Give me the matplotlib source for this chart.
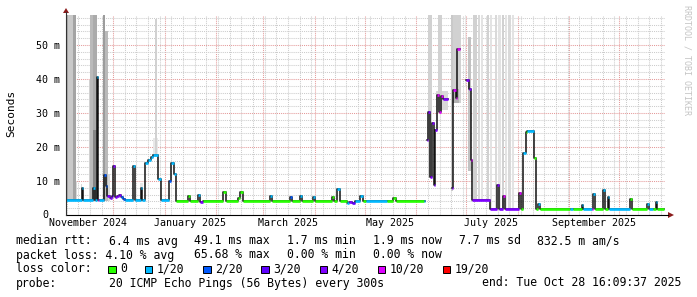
import re

import matplotlib
matplotlib.use("Agg")
import matplotlib.pyplot as plt
import matplotlib.dates as mdates
from matplotlib.patches import Polygon, Rectangle
import numpy as np
import pandas as pd

plt.rcParams["font.family"] = ["DejaVu Sans Mono", "DejaVu Sans"]

nan = np.nan

# ---- data -------------------------------------------------------------------
t_start = pd.Timestamp("2024-11-02 16:09:37")
t_end = pd.Timestamp("2025-10-28 16:09:37")

# median rtt in ms, as step changes; loss = pings lost out of 20
median_time = [
    "2024-11-02 16:00", "2024-11-12 05:00", "2024-11-13 02:00", "2024-11-19 02:00",
    "2024-11-20 00:00", "2024-11-21 00:00", "2024-11-21 12:00", "2024-11-22 00:00",
    "2024-11-22 12:00", "2024-11-25 10:00", "2024-11-26 14:00", "2024-11-27 10:00",
    "2024-11-29 00:00", "2024-11-30 05:00", "2024-12-01 03:00", "2024-12-02 00:00",
    "2024-12-03 05:00", "2024-12-04 10:00", "2024-12-05 14:00", "2024-12-06 19:00",
    "2024-12-08 00:00", "2024-12-13 00:00", "2024-12-14 05:00", "2024-12-17 12:00",
    "2024-12-18 10:00", "2024-12-20 05:00", "2024-12-21 19:00", "2024-12-23 14:00",
    "2024-12-24 19:00", "2024-12-28 02:00", "2024-12-29 14:00", "2025-01-03 07:00",
    "2025-01-04 12:00", "2025-01-06 12:00", "2025-01-07 17:00", "2025-01-14 17:00",
    "2025-01-16 02:00", "2025-01-20 22:00", "2025-01-22 02:00", "2025-01-23 22:00",
    "2025-02-05 02:00", "2025-02-06 12:00", "2025-02-14 02:00", "2025-02-15 10:00",
    "2025-02-16 17:00", "2025-03-05 02:00", "2025-03-06 12:00", "2025-03-17 02:00",
    "2025-03-18 17:00", "2025-03-23 02:00", "2025-03-24 05:00", "2025-03-31 02:00",
    "2025-04-01 02:00", "2025-04-11 10:00", "2025-04-12 14:00", "2025-04-14 17:00",
    "2025-04-16 05:00", "2025-04-20 05:00", "2025-04-21 14:00", "2025-04-23 10:00",
    "2025-04-25 05:00", "2025-04-28 05:00", "2025-04-29 19:00", "2025-05-02 02:00",
    "2025-05-14 05:00", "2025-05-18 07:00", "2025-05-19 19:00", "2025-06-05 10:00",
    "2025-06-06 12:00", "2025-06-07 05:00", "2025-06-08 05:00", "2025-06-09 14:00",
    "2025-06-10 14:00", "2025-06-11 19:00", "2025-06-12 14:00", "2025-06-13 19:00",
    "2025-06-14 19:00", "2025-06-16 00:00", "2025-06-17 00:00", "2025-06-20 05:00",
    "2025-06-22 05:00", "2025-06-23 05:00", "2025-06-24 19:00", "2025-06-25 17:00",
    "2025-06-27 14:00", "2025-07-01 05:00", "2025-07-02 14:00", "2025-07-03 17:00",
    "2025-07-04 14:00", "2025-07-15 12:00", "2025-07-19 12:00", "2025-07-20 12:00",
    "2025-07-23 05:00", "2025-07-24 07:00", "2025-08-01 19:00", "2025-08-02 22:00",
    "2025-08-03 22:00", "2025-08-05 22:00", "2025-08-06 14:00", "2025-08-10 17:00",
    "2025-08-11 17:00", "2025-08-13 07:00", "2025-08-14 07:00", "2025-09-01 10:00",
    "2025-09-03 10:00", "2025-09-08 07:00", "2025-09-09 07:00", "2025-09-14 07:00",
    "2025-09-15 07:00", "2025-09-16 12:00", "2025-09-21 07:00", "2025-09-22 12:00",
    "2025-09-23 22:00", "2025-09-24 17:00", "2025-10-07 07:00", "2025-10-08 12:00",
    "2025-10-17 17:00", "2025-10-18 22:00", "2025-10-21 02:00", "2025-10-22 19:00",
    "2025-10-23 17:00", "2025-10-28 00:00",
]
median_ms = [
    4.3, 7.8, 4.3, 8.0, 4.3, 31.5, 40.7, 4.3, 4.3, 11.8, 8.5, 5.5,
    5.0, 5.5, 14.4, 5.3, 5.7, 5.9, 5.2, 4.8, 4.3, 14.5, 4.3, 7.8,
    4.3, 15.4, 16.2, 17.0, 17.6, 10.7, 4.3, 10.0, 15.3, 12.1, 4.1, 5.6,
    4.1, 5.8, 3.9, 4.1, 6.7, 4.1, 4.9, 6.7, 4.1, 5.6, 4.0, 5.4,
    4.1, 5.6, 4.1, 5.4, 4.1, 5.4, 4.1, 7.6, 4.1, 3.4, 3.8, 3.5,
    4.1, 5.6, 4.1, 4.1, 4.1, 4.9, 4.1, 4.1, nan, 22.0, 30.4, 11.3,
    27.0, 8.7, 25.0, 35.3, 30.4, 35.0, 34.0, nan, 8.0, 36.8, 34.5, 48.8,
    nan, 39.7, 37.0, 16.2, 4.3, 1.8, 8.8, 1.8, 5.6, 1.8, 6.6, 1.8,
    18.1, 24.5, 24.7, 16.9, 1.8, 3.2, 1.8, 1.8, 1.8, 2.9, 1.8, 1.8,
    6.3, 1.8, 7.5, 1.8, 5.4, 1.8, 4.8, 1.8, 3.2, 1.8, 1.8, 3.7,
    1.8, 1.8,
]
median_loss = [
    1, 1, 1, 1, 1, 2, 1, 10, 1, 2, 2, 4,
    4, 3, 4, 4, 4, 4, 2, 2, 1, 1, 1, 1,
    1, 1, 1, 1, 1, 1, 1, 2, 1, 1, 0, 0,
    0, 1, 4, 0, 0, 0, 0, 0, 0, 1, 0, 2,
    0, 1, 0, 1, 0, 0, 0, 1, 0, 1, 4, 3,
    1, 1, 0, 1, 0, 0, 0, 1, 0, 4, 4, 4,
    4, 4, 4, 10, 10, 10, 4, 0, 4, 10, 10, 10,
    0, 4, 4, 10, 4, 4, 4, 4, 10, 4, 10, 0,
    1, 0, 1, 0, 0, 1, 0, 1, 0, 1, 1, 10,
    1, 0, 1, 0, 1, 1, 0, 0, 1, 1, 0, 1,
    0, 0,
]

# smoke (spread of the 20 pings): time span, low/high ms, density 0..1
smoke_from = [
    "2024-11-02 16:00", "2024-11-03 19:00", "2024-11-06 19:00", "2024-11-08 14:00",
    "2024-11-11 14:00", "2024-11-16 10:00", "2024-11-17 07:00", "2024-11-18 19:00",
    "2024-11-18 19:00", "2024-11-24 19:00", "2024-11-26 05:00", "2024-11-27 19:00",
    "2024-12-17 00:00", "2024-12-24 19:00", "2024-12-26 07:00", "2025-06-08 05:00",
    "2025-06-13 00:00", "2025-06-14 05:00", "2025-06-21 19:00", "2025-06-23 05:00",
    "2025-06-23 05:00", "2025-06-30 05:00", "2025-07-02 05:00", "2025-07-05 05:00",
    "2025-07-08 05:00", "2025-07-09 17:00", "2025-07-13 07:00", "2025-07-15 05:00",
    "2025-07-18 05:00", "2025-07-20 05:00", "2025-07-22 07:00", "2025-07-24 07:00",
    "2025-07-26 05:00", "2025-07-28 07:00",
]
smoke_to = [
    "2024-11-03 19:00", "2024-11-06 19:00", "2024-11-08 14:00", "2024-11-09 12:00",
    "2024-11-12 12:00", "2024-11-17 07:00", "2024-11-18 19:00", "2024-11-21 05:00",
    "2024-11-21 05:00", "2024-11-26 05:00", "2024-11-27 19:00", "2024-11-29 00:00",
    "2024-12-18 19:00", "2024-12-28 02:00", "2024-12-27 12:00", "2025-06-10 05:00",
    "2025-06-20 05:00", "2025-06-16 19:00", "2025-06-23 05:00", "2025-06-27 19:00",
    "2025-06-27 00:00", "2025-07-01 05:00", "2025-07-03 17:00", "2025-07-07 14:00",
    "2025-07-09 05:00", "2025-07-10 22:00", "2025-07-14 19:00", "2025-07-16 07:00",
    "2025-07-19 07:00", "2025-07-21 17:00", "2025-07-23 17:00", "2025-07-25 14:00",
    "2025-07-27 17:00", "2025-07-29 17:00",
]
smoke_low = [4, 4, 4, 4, 4, 4, 4, 4, 4, 4, 4, 4, 4, 17, 17, 11, 31,
             34, 7, 33, 33, 38, 13, 4, 4, 4, 4, 2, 2, 2, 2, 2, 2, 2]
smoke_high = [60, 60, 60, 10, 9, 39.7, 60, 60, 25, 60, 54, 12, 9.5, 22.6, 57.6, 60, 36.5,
              60, 60, 60, 37, 60, 52.5, 60, 60, 60, 60, 60, 60, 60, 60, 60, 60, 60]
smoke_density = [0.55, 0.35, 0.6, 0.25, 0.25, 0.3, 0.45, 0.55, 0.8, 0.65, 0.45, 0.25,
                 0.15, 0.15, 0.3, 0.3, 0.25, 0.3, 0.35, 0.3, 0.5, 0.15, 0.4,
                 0.3, 0.25, 0.18, 0.3, 0.18, 0.25, 0.18, 0.3, 0.18, 0.25, 0.18]

loss_levels = [0, 1, 2, 3, 4, 10, 19]
loss_colors = ["#26ff00", "#00b8ff", "#0059ff", "#5e00ff", "#7e00ff", "#dd00ff", "#ff0000"]
loss_labels = ["0", "1/20", "2/20", "3/20", "4/20", "10/20", "19/20"]

month_labels = ["November 2024", "January 2025", "March 2025", "May 2025",
                "July 2025", "September 2025"]
month_label_at = ["2024-11-16", "2025-01-16", "2025-03-16", "2025-05-16",
                  "2025-07-16", "2025-09-16"]

legend_lines = [
    "median rtt:  6.4 ms avg  49.1 ms max  1.7 ms min  1.9 ms now  7.7 ms sd  832.5 m am/s",
    "packet loss: 4.10 % avg  65.68 % max  0.00 % min  0.00 % now",
]
probe_line = "probe:       20 ICMP Echo Pings (56 Bytes) every 300s"
end_line = "end: Tue Oct 28 16:09:37 2025"

# ---- figure -----------------------------------------------------------------
W, H = 697, 297
X0, X1, YTOP, YBOT = 66, 665.4, 14.5, 215
fig = plt.figure(figsize=(W / 100, H / 100), dpi=100)
fig.patch.set_facecolor("white")
ax = fig.add_axes([X0 / W, 1 - YBOT / H, (X1 - X0) / W, (YBOT - YTOP) / H])
ax.set_xlim(t_start, t_end)
ax.set_ylim(0, 59)
for s in ax.spines.values():
    s.set_visible(False)


def loss_color(n):
    idx = max(i for i, lv in enumerate(loss_levels) if lv <= n)
    return loss_colors[idx]


# smoke
sf = mdates.date2num(pd.to_datetime(smoke_from))
st = mdates.date2num(pd.to_datetime(smoke_to))
greys = [str(1 - 0.6 * d) for d in smoke_density]
ax.bar(sf, np.array(smoke_high) - np.array(smoke_low), bottom=smoke_low,
       width=st - sf, align="edge", color=greys, linewidth=0, zorder=2)

# median line: dark verticals, loss coloured steps
mt = mdates.date2num(pd.to_datetime(median_time))
mv = np.array(median_ms, dtype=float)
ax.step(mt, mv, where="post", color="#111111", lw=1.1, zorder=3)
ax.hlines(mv[:-1], mt[:-1], mt[1:], colors=[loss_color(n) for n in median_loss[:-1]],
          lw=1.9, zorder=4)

# grid
ax.set_yticks(np.arange(0, 51, 10))
ax.set_yticks(np.arange(0, 59, 2), minor=True)
ax.set_yticklabels([""] + [f"{v} m" for v in range(10, 51, 10)], fontsize=7.2)
ax.set_xticks(pd.date_range("2024-12-01", "2025-10-01", freq="MS"))
ax.set_xticks(pd.date_range("2024-11-03", t_end, freq="W-SUN"), minor=True)
ax.set_xticklabels([])
ax.tick_params(which="both", length=0)
ax.tick_params(axis="y", pad=4.3)
ax.grid(which="minor", color="#cccccc", lw=0.75, ls=(0, (1, 1)), zorder=0)
ax.grid(which="major", color="#e49a9a", lw=0.75, ls=(0, (1, 1)), zorder=0)
ax.set_axisbelow(True)

for lab, d in zip(month_labels, month_label_at):
    ax.text(pd.Timestamp(d), -(223.5 - YBOT) / (YBOT - YTOP), lab,
            transform=ax.get_xaxis_transform(), ha="center", va="center",
            fontsize=7.2, clip_on=False)

# ---- overlay in pixel coordinates for axes arrows and legend ----------------
ov = fig.add_axes([0, 0, 1, 1])
ov.set_xlim(0, W)
ov.set_ylim(H, 0)
ov.axis("off")

ov.plot([X0, 668], [YBOT, YBOT], color="black", lw=0.8)
ov.plot([X0, X0], [YBOT, 12], color="#333333", lw=0.8)
ov.add_patch(Polygon([(668, 212), (668, 218), (674, 215)], closed=True, color="#8b1c1c", lw=0))
ov.add_patch(Polygon([(63, 13), (69, 13), (66, 8)], closed=True, color="#8b1c1c", lw=0))

ov.text(48.5, YBOT, "0", ha="right", va="center", fontsize=7.2)
ov.text(11, 113, "Seconds", rotation=90, ha="center", va="center", fontsize=8)
ov.text(687, 5, "RRDTOOL / TOBI OETIKER", rotation=270, ha="center", va="top",
        fontsize=6, color="#c4c4c4")

CW = 7.14
FS = 8.3


def put_words(line, x, y):
    for m in re.finditer(r"\S+(?: \S+)*", line):
        ov.text(x + m.start() * CW, y, m.group(), ha="left", va="center", fontsize=FS)


put_words(legend_lines[0], 16, 241)
put_words(legend_lines[1], 16, 255)
put_words("loss color:", 16, 269)
bx = 108.3
for lab, col in zip(loss_labels, loss_colors):
    ov.add_patch(Rectangle((bx, 265.6), 7.3, 7.3, facecolor=col, edgecolor="black", lw=0.7))
    put_words(lab, bx + 11.7, 269)
    bx = bx + 11.7 + len(lab) * CW + 17.9
put_words(probe_line, 16, 283)
ov.text(681, 283, end_line, ha="right", va="center", fontsize=FS)

fig.savefig("out.png", dpi=100)
